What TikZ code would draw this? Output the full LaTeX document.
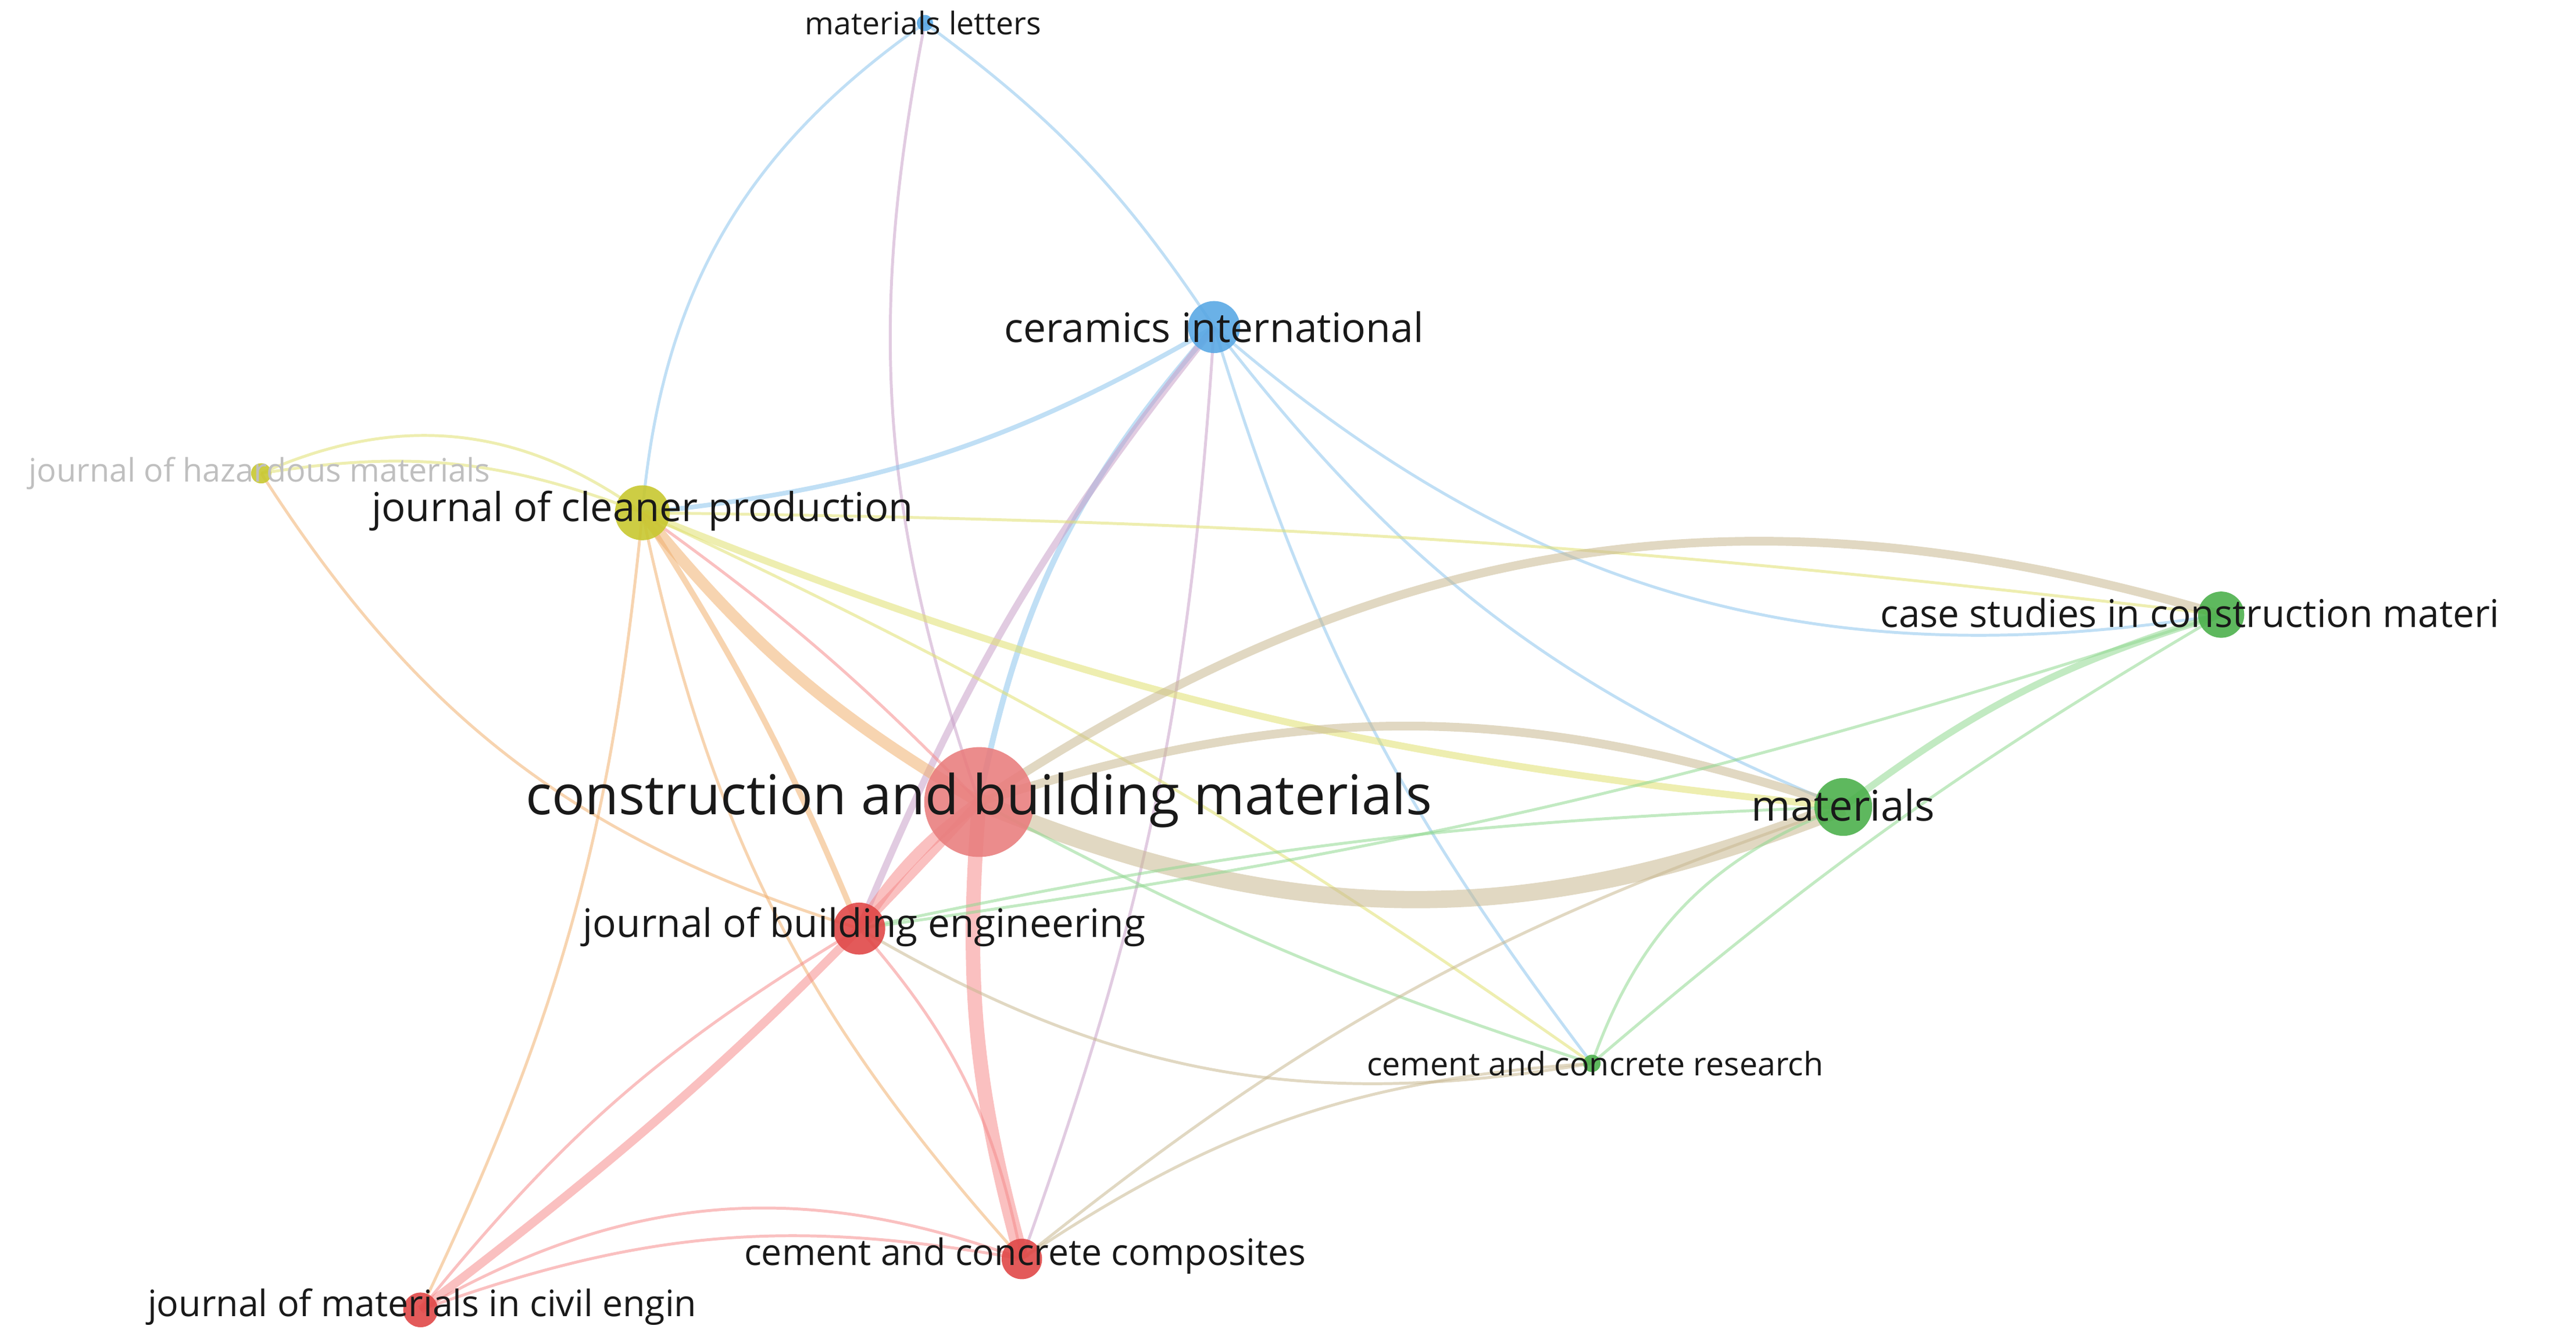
\documentclass[tikz,border=0pt]{standalone}
\usepackage{fontspec}
\setmainfont{Open Sans}
\begin{document}
\begin{tikzpicture}[x=0.01cm,y=-0.01cm,
 nd/.style={circle,inner sep=0pt,fill opacity=0.9},
 lb/.style={text=black!90,inner sep=0pt},
 e/.style={line width=0.5pt,draw opacity=0.55},
 ]
\useasboundingbox (0,0) rectangle (1568,815);
\definecolor{rd}{HTML}{E04848}
\definecolor{bl}{HTML}{5AA8E4}
\definecolor{ye}{HTML}{C8C830}
\definecolor{gr}{HTML}{4CB04C}
\definecolor{er}{HTML}{F58C8C}
\definecolor{eb}{HTML}{8CC4EC}
\definecolor{ey}{HTML}{E0E070}
\definecolor{eg}{HTML}{90D890}
\definecolor{eo}{HTML}{F0B070}
\definecolor{ebr}{HTML}{C8B890}
\definecolor{ep}{HTML}{C8A0C8}
% coordinates
\coordinate (ml) at (563,14);
\coordinate (ci) at (739,199);
\coordinate (hz) at (159,288);
\coordinate (jcp) at (391,312);
\coordinate (cs) at (1352,374);
\coordinate (cbm) at (596,488);
\coordinate (mat) at (1122,491);
\coordinate (jbe) at (523,565);
\coordinate (ccr) at (969,647);
\coordinate (ccc) at (622,766);
\coordinate (jm) at (256,797);
% edges
\draw[e,eb] (ml) to[bend left=10] (ci);
\draw[e,eb] (ml) to[bend right=25] (jcp);
\draw[e,ep] (ml) to[bend right=15] (cbm);
\draw[e,eb,line width=1pt] (ci) to[bend right=15] (cbm);
\draw[e,ep,line width=1.2pt] (ci) to[bend right=8] (jbe);
\draw[e,eb,line width=0.8pt] (ci) to[bend left=12] (jcp);
\draw[e,eb] (ci) to[bend right=25] (cs);
\draw[e,eb] (ci) to[bend right=15] (mat);
\draw[e,eb] (ci) to[bend right=10] (ccr);
\draw[e,ep] (ci) to[bend left=8] (ccc);
\draw[e,ey] (hz) to[bend left=15] (jcp);
\draw[e,ey] (hz) to[bend left=30] (jcp);
\draw[e,eo] (hz) to[bend right=20] (jbe);
\draw[e,eo,line width=2pt] (jcp) to[bend right=10] (cbm);
\draw[e,eo,line width=1pt] (jcp) to[bend left=5] (jbe);
\draw[e,eo] (jcp) to[bend left=10] (jm);
\draw[e,eo] (jcp) to[bend right=15] (ccc);
\draw[e,ey,line width=1.2pt] (jcp) to[bend right=8] (mat);
\draw[e,ey] (jcp) to[bend left=5] (ccr);
\draw[e,ey] (jcp) to[bend left=3] (cs);
\draw[e,er] (jcp) to[bend left=5] (cbm);
\draw[e,ebr,line width=1.5pt] (cbm) to[bend left=25] (cs);
\draw[e,ebr,line width=3pt] (cbm) to[bend right=22] (mat);
\draw[e,ebr,line width=1.5pt] (cbm) to[bend left=18] (mat);
\draw[e,er,line width=2pt] (cbm) to[bend right=10] (jbe);
\draw[e,er,line width=2.5pt] (cbm) to[bend right=10] (ccc);
\draw[e,er,line width=1.5pt] (cbm) to[bend left=5] (jm);
\draw[e,eg] (cbm) to[bend right=5] (ccr);
\draw[e,eg,line width=1.2pt] (mat) to[bend left=10] (cs);
\draw[e,eg] (mat) to[bend right=25] (ccr);
\draw[e,eg] (cs) to[bend left=5] (jbe);
\draw[e,eg] (cs) to[bend right=5] (ccr);
\draw[e,ebr] (mat) to[bend right=10] (ccc);
\draw[e,eg] (mat) to[bend right=5] (jbe);
\draw[e,ebr] (ccr) to[bend left=20] (jbe);
\draw[e,ebr] (ccr) to[bend right=15] (ccc);
\draw[e,er] (jbe) to[bend left=15] (ccc);
\draw[e,er] (jbe) to[bend right=10] (jm);
\draw[e,er] (ccc) to[bend right=25] (jm);
\draw[e,er] (ccc) to[bend right=15] (jm);
% nodes
\node[nd,fill=bl,minimum size=10pt*0.28] (nml) at (ml) {};
\node[nd,fill=bl,minimum size=9pt] (nci) at (ci) {};
\node[nd,fill=ye,minimum size=3.5pt] (nhz) at (hz) {};
\node[nd,fill=ye,minimum size=9.5pt] (njcp) at (jcp) {};
\node[nd,fill=gr,minimum size=8pt] (ncs) at (cs) {};
\node[nd,fill=rd!70!white,minimum size=19pt] (ncbm) at (cbm) {};
\node[nd,fill=gr,minimum size=10pt] (nmat) at (mat) {};
\node[nd,fill=rd,minimum size=9pt] (njbe) at (jbe) {};
\node[nd,fill=gr,minimum size=3pt] (nccr) at (ccr) {};
\node[nd,fill=rd,minimum size=7pt] (nccc) at (ccc) {};
\node[nd,fill=rd,minimum size=6pt] (njm) at (jm) {};
% labels
\node[lb,font=\fontsize{5.4}{6}\selectfont] at (562,14) {materials letters};
\node[lb,font=\fontsize{7}{8}\selectfont] at (739,199) {ceramics international};
\node[lb,text=black!25,font=\fontsize{5.6}{6}\selectfont] at (158,288) {journal of hazardous materials};
\node[lb,font=\fontsize{6.9}{8}\selectfont] at (391,311) {journal of cleaner production};
\node[lb,font=\fontsize{6.6}{8}\selectfont,anchor=west] at (1144,373) {case studies in construction materi};
\node[lb,font=\fontsize{9.5}{11}\selectfont] at (596,487) {construction and building materials};
\node[lb,font=\fontsize{7.3}{8}\selectfont] at (1122,490) {materials};
\node[lb,font=\fontsize{6.8}{8}\selectfont] at (526,564) {journal of building engineering};
\node[lb,font=\fontsize{5.6}{6}\selectfont] at (971,647) {cement and concrete research};
\node[lb,font=\fontsize{6.3}{7}\selectfont] at (624,764) {cement and concrete composites};
\node[lb,font=\fontsize{6.3}{7}\selectfont] at (257,795) {journal of materials in civil engin};
\end{tikzpicture}
\end{document}
